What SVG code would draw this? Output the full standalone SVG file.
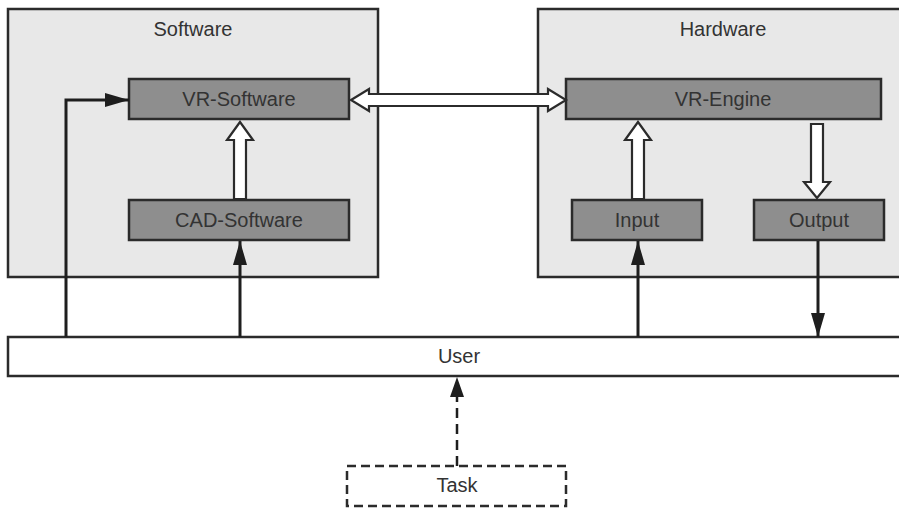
<svg xmlns="http://www.w3.org/2000/svg" width="899" height="508" viewBox="0 0 899 508">
  <defs>
    <style>
      .container { fill: #e8e8e8; stroke: #2b2b2b; stroke-width: 2.5; }
      .box { fill: #8e8e8e; stroke: #2b2b2b; stroke-width: 2.5; }
      .bar { fill: #ffffff; stroke: #2b2b2b; stroke-width: 2.5; }
      .dashbox { fill: #ffffff; stroke: #2b2b2b; stroke-width: 2.5; stroke-dasharray: 9 5; }
      .label { font-family: "Liberation Sans", Arial, sans-serif; font-size: 20px; fill: #333333; text-anchor: middle; }
      .line { fill: none; stroke: #1e1e1e; stroke-width: 3; }
      .dashed { fill: none; stroke: #1e1e1e; stroke-width: 2.5; stroke-dasharray: 10 6; }
      .hollow { fill: #ffffff; stroke: #2b2b2b; stroke-width: 2.2; stroke-linejoin: miter; }
    </style>
    <marker id="head" markerUnits="userSpaceOnUse" markerWidth="24" markerHeight="14" refX="24" refY="7" orient="auto">
      <path d="M0,0 L24,7 L0,14 z" fill="#1e1e1e"/>
    </marker>
  </defs>

  <g id="software">
    <rect class="container" x="8" y="9" width="370" height="268"/>
    <text class="label" x="193" y="36">Software</text>
  </g>
  <g id="hardware">
    <rect class="container" x="538" y="9" width="372" height="268"/>
    <text class="label" x="723" y="36">Hardware</text>
  </g>
  <g id="vr-software">
    <rect class="box" x="129" y="79" width="220" height="40"/>
    <text class="label" x="239" y="106">VR-Software</text>
  </g>
  <g id="cad-software">
    <rect class="box" x="129" y="200" width="220" height="40"/>
    <text class="label" x="239" y="227">CAD-Software</text>
  </g>
  <g id="vr-engine">
    <rect class="box" x="566" y="79" width="315" height="40"/>
    <text class="label" x="723" y="106">VR-Engine</text>
  </g>
  <g id="input">
    <rect class="box" x="572" y="200" width="130" height="40"/>
    <text class="label" x="637" y="227">Input</text>
  </g>
  <g id="output">
    <rect class="box" x="754" y="200" width="130" height="40"/>
    <text class="label" x="819" y="227">Output</text>
  </g>
  <g id="user">
    <rect class="bar" x="8" y="337" width="905" height="39"/>
    <text class="label" x="459" y="363">User</text>
  </g>
  <g id="task">
    <rect class="dashbox" x="347" y="466" width="219" height="40"/>
    <text class="label" x="457" y="492">Task</text>
  </g>

  <g id="connectors">
    <!-- hollow double arrow VR-Software <-> VR-Engine -->
    <polygon class="hollow" points="351,100 369,89 369,94 548,94 548,89 566,100 548,111 548,106 369,106 369,111"/>
    <!-- hollow arrow CAD -> VR-Software -->
    <polygon class="hollow" points="240,122 253,140 246,140 246,199 234,199 234,140 227,140"/>
    <!-- hollow arrow Input -> VR-Engine -->
    <polygon class="hollow" points="638,122 651,140 644,140 644,199 632,199 632,140 625,140"/>
    <!-- hollow arrow VR-Engine -> Output -->
    <polygon class="hollow" points="811,124 823,124 823,182 830,182 817,198 804,182 811,182"/>
    <!-- user -> VR-Software -->
    <polyline class="line" points="66,337 66,100 129,100" marker-end="url(#head)"/>
    <!-- user -> CAD-Software -->
    <line class="line" x1="240" y1="337" x2="240" y2="241" marker-end="url(#head)"/>
    <!-- user -> Input -->
    <line class="line" x1="638" y1="337" x2="638" y2="241" marker-end="url(#head)"/>
    <!-- Output -> user -->
    <line class="line" x1="818" y1="241" x2="818" y2="337" marker-end="url(#head)"/>
    <!-- Task -> user (dashed) -->
    <line class="dashed" x1="457" y1="466" x2="457" y2="396"/>
    <path d="M450,397 L457,377 L464,397 z" fill="#1e1e1e"/>
  </g>
</svg>
